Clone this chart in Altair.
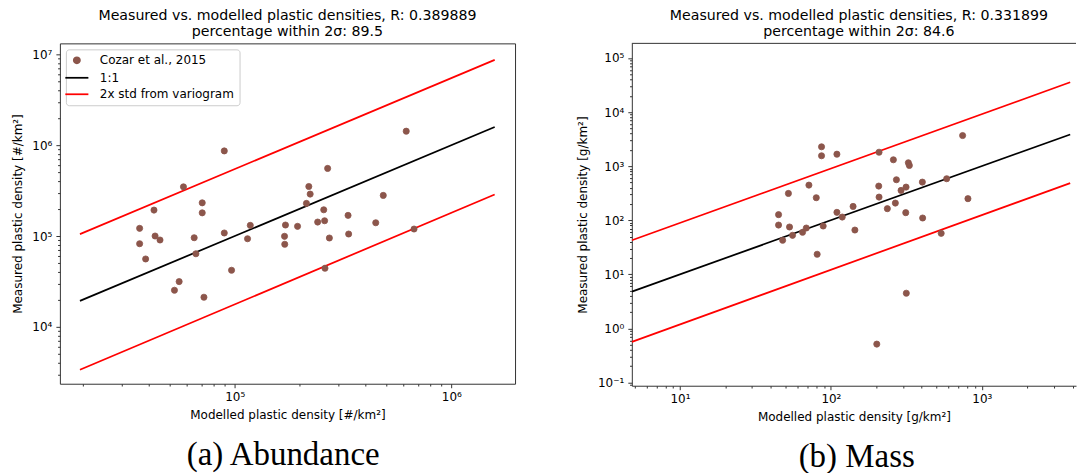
import altair as alt
import pandas as pd

TITLE_A = ["Measured vs. modelled plastic densities, R: 0.389889", "percentage within 2σ: 89.5"]
TITLE_B = ["Measured vs. modelled plastic densities, R: 0.331899", "percentage within 2σ: 84.6"]
CAPTION_A = "(a) Abundance"
CAPTION_B = "(b) Mass"
XLABEL_A = "Modelled plastic density [#/km²]"
YLABEL_A = "Measured plastic density [#/km²]"
XLABEL_B = "Modelled plastic density [g/km²]"
YLABEL_B = "Measured plastic density [g/km²]"
SERIES = ["Cozar et al., 2015", "1:1", "2x std from variogram"]
COLORS = ["#8c564b", "#000000", "#ff0000"]

# Panel (a): abundance
abund_model = [89500, 58000, 70800, 70800, 42400, 36400, 36400, 42900, 45200, 38800,
               65000, 66200, 89500, 118000, 114600, 96700, 55400, 52700, 72100, 619000,
               268500, 219800, 223000, 214300, 485000, 257600, 333600, 171500, 195000, 241500,
               260000, 447700, 169800, 170200, 273500, 335700, 672600, 261000]
abund_meas = [865000, 348000, 232000, 180000, 193000, 121500, 82300, 100000, 90400, 55900,
              95800, 63800, 108000, 131000, 93400, 42000, 31500, 25300, 21200, 1426000,
              555000, 351000, 289500, 228700, 280000, 194500, 168800, 132100, 127800, 142500,
              147300, 140000, 99300, 81100, 95100, 105200, 119400, 44200]
abund_line_x = [19300, 1585000]
abund_upper = [105000, 8700000]
abund_lower = [3370, 287000]

# Panel (b): mass
mass_model = [86.7, 86.7, 109.6, 52.3, 71.5, 80, 45, 45, 53.2, 47.9,
              55.7, 64.9, 68.7, 88.9, 109.6, 118.9, 140.3, 144.2, 81.1, 746,
              208.5, 259.4, 326, 331, 271.7, 207.5, 208.5, 403.6, 585, 314.8,
              291.7, 267.3, 236.6, 313.3, 405.5, 809, 538, 316, 201.4]
mass_meas = [2280, 1556, 1664, 313, 446, 261, 127, 81.5, 75, 42.6,
             52.6, 59.9, 71.8, 78.2, 140, 114.6, 180, 65.9, 23.5, 3680,
             1811, 1312, 1156, 1031, 561, 428, 268, 507, 586, 410,
             356, 207.6, 163.7, 138, 110, 250.6, 57.3, 4.48, 0.513]
mass_line_x = [4.8, 3850]
mass_upper = [42.6, 35500]
mass_lower = [0.566, 485]

SUP = {"-": "⁻", "0": "⁰", "1": "¹", "2": "²", "3": "³", "4": "⁴",
       "5": "⁵", "6": "⁶", "7": "⁷", "8": "⁸", "9": "⁹"}
FONT = "DejaVu Sans"
AXIS_COLOR = "#333333"
FS = 12
MAJOR_TEST = "abs(log(datum.value)/LN10 - round(log(datum.value)/LN10)) < 1e-6"
LINE_SYMBOL = "M-3.3,0L3.3,0"


def log_ticks(lo, hi):
    vals = []
    for e in range(-3, 9):
        for m in range(1, 10):
            v = m * 10.0 ** e
            if lo <= v <= hi:
                vals.append(v)
    return vals


def label_expr(lo, hi):
    expr = "''"
    for e in reversed(range(-3, 9)):
        if lo <= 10.0 ** e <= hi:
            s = "10" + "".join(SUP[c] for c in str(e))
            expr = f"abs(log(datum.value)/LN10 - ({e})) < 1e-6 ? '{s}' : " + expr
    return expr


def make_axis(lo, hi, title, label_pad, title_pad, domain):
    return alt.Axis(
        values=log_ticks(lo, hi), labelExpr=label_expr(lo, hi), title=title,
        grid=False, domain=domain, domainColor=AXIS_COLOR, domainWidth=1,
        tickColor=AXIS_COLOR, tickWidth=1,
        tickSize={"condition": {"test": MAJOR_TEST, "value": 4}, "value": 2.3},
        labelFont=FONT, labelFontSize=FS, labelColor="black", labelPadding=label_pad,
        labelFlush=False, labelOverlap=False, labelBound=False,
        titleFont=FONT, titleFontSize=FS, titleFontWeight="normal", titleColor="black",
        titlePadding=title_pad,
    )


def panel(model, meas, lx, up, low, xdom, ydom, w, h, title, xlabel, ylabel, right):
    pts = pd.DataFrame({"x": model, "y": meas, "series": SERIES[0]})
    lines = pd.DataFrame({
        "x": lx + lx + lx,
        "y": lx + up + low,
        "series": [SERIES[1]] * 2 + [SERIES[2]] * 4,
        "grp": ["one"] * 2 + ["up"] * 2 + ["low"] * 2,
    })
    xs = alt.Scale(type="log", domain=xdom, nice=False)
    ys = alt.Scale(type="log", domain=ydom, nice=False)
    xa = make_axis(xdom[0], xdom[1], xlabel, 4, 7, right)
    ya = make_axis(ydom[0], ydom[1], ylabel, 4, 7.5, right)
    leg = alt.Legend(
        title=None, orient="top-left", offset=6, padding=5, strokeColor="#cccccc",
        fillColor="white", cornerRadius=3, labelFont=FONT, labelFontSize=FS,
        labelColor="black", symbolStrokeWidth=1.75, rowPadding=4.5, labelOffset=17,
    )
    dom = SERIES
    fill_s = alt.Scale(domain=dom, range=COLORS)
    stroke_s = alt.Scale(domain=dom, range=COLORS)
    shape_s = alt.Scale(domain=dom, range=["circle", LINE_SYMBOL, LINE_SYMBOL])
    size_s = alt.Scale(type="ordinal", domain=dom, range=[38, 49, 49])

    line_layer = alt.Chart(lines).mark_line(strokeWidth=1.75, clip=True).encode(
        x=alt.X("x:Q", scale=xs, axis=xa),
        y=alt.Y("y:Q", scale=ys, axis=ya),
        stroke=alt.Stroke("series:N", scale=stroke_s, legend=leg),
        detail="grp:N",
    )
    pt_layer = alt.Chart(pts).mark_point(filled=True, opacity=1, strokeWidth=0.8, clip=True).encode(
        x=alt.X("x:Q", scale=xs, axis=xa),
        y=alt.Y("y:Q", scale=ys, axis=ya),
        fill=alt.Fill("series:N", scale=fill_s, legend=leg),
        stroke=alt.Stroke("series:N", scale=stroke_s, legend=leg),
        shape=alt.Shape("series:N", scale=shape_s, legend=leg),
        size=alt.Size("series:N", scale=size_s, legend=leg),
    )
    layers = [line_layer, pt_layer]
    if right:
        # single top spine (one row so it is drawn once)
        top = alt.Chart(pts.iloc[:1]).mark_rule(color=AXIS_COLOR, strokeWidth=1).encode(
            x=alt.value(0), x2=alt.value(w), y=alt.value(0))
        layers.append(top)
    ch = alt.layer(*layers).properties(
        width=w, height=h,
        title=alt.TitleParams(text=title, font=FONT, fontSize=14.2, fontWeight="normal",
                              color="black", anchor="middle", frame="group",
                              lineHeight=16, offset=4, dx=(5 if right else 0)),
    )
    if right:
        ch = ch.properties(view=alt.ViewBackground(stroke="transparent"))
    return ch


left = panel(abund_model, abund_meas, abund_line_x, abund_upper, abund_lower,
             [10 ** 4.193, 10 ** 6.294], [10 ** 3.374, 10 ** 7.121], 456, 341,
             TITLE_A, XLABEL_A, YLABEL_A, False)
right = panel(mass_model, mass_meas, mass_line_x, mass_upper, mass_lower,
              [10 ** 0.681, 10 ** 3.624], [10 ** -1.059, 10 ** 5.27], 445, 343,
              TITLE_B, XLABEL_B, YLABEL_B, True)


def captioned(ch, text, dx):
    return alt.vconcat(ch, title=alt.TitleParams(
        text=text, orient="bottom", font="Liberation Serif", fontSize=33,
        fontWeight="normal", color="black", anchor="middle", frame="bounds",
        offset=18, dx=dx))


chart = alt.hconcat(captioned(left, CAPTION_A, 20), captioned(right, CAPTION_B, 30), spacing=60).properties(
    padding={"left": 10, "top": 7, "right": 0, "bottom": 0},
).configure(background="white").configure_view(stroke=AXIS_COLOR, strokeWidth=1)

chart.save("out.html", embed_options={"renderer": "svg", "actions": False})
